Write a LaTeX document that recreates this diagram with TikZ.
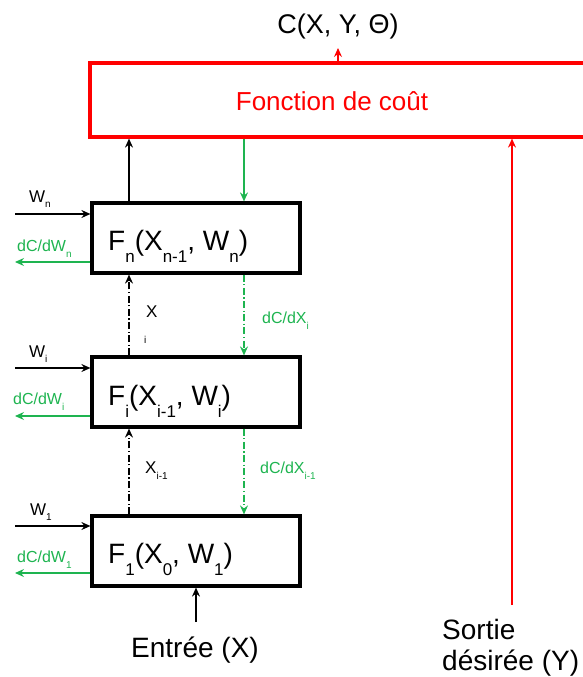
\documentclass[tikz,border=0pt]{standalone}
\usepackage{fontspec}
\setmainfont{Liberation Sans}
\usetikzlibrary{arrows.meta}
\definecolor{gr}{RGB}{30,180,80}
\newcommand\lowsub[3]{\raisebox{-#1}{\fontsize{#2}{#2}\selectfont #3}}
\newcommand\fs[1]{\fontsize{#1}{#1}\selectfont}
\begin{document}
\begin{tikzpicture}[x=1pt,y=-1pt,
  fbox/.style={draw=black,line width=3.2pt,minimum width=208pt,minimum height=70pt,inner sep=0pt},
  costbox/.style={draw=red,line width=3.2pt,minimum width=496pt,minimum height=74pt,inner sep=0pt,text=red},
  tip/.style={-{Stealth[length=9pt,width=8pt,inset=3pt]}},
  barr/.style={tip,line width=1.2pt,black},
  garr/.style={tip,line width=1.2pt,gr},
  dd/.style={dash pattern=on 7pt off 2.5pt on 1.2pt off 2.5pt},
  rarr/.style={tip,line width=1.2pt,red},
  lbl/.style={inner sep=0pt,anchor=base west},
  big/.style={inner sep=0pt,font=\fs{28}},
]
\useasboundingbox (0,0) rectangle (583,677);

% cost function box
\node[costbox] (cost) at (338,100) {};
\node[inner sep=0pt,anchor=base,text=red,font=\fs{26}] (costl) at (332,110) {Fonction de coût};
\node[inner sep=0pt,font=\fs{27},anchor=base] (C) at (338,34) {C(X, Y, Θ)};
\coordinate (ctop) at (338,48);
\draw[rarr] (cost.north -| ctop) -- (ctop);

% F boxes
\node[fbox] (fn) at (196,238) {};
\node[fbox] (fi) at (196,392) {};
\node[fbox] (f1) at (196,551) {};
\node[lbl,font=\fs{28}] (fnl) at (108,250) {F\lowsub{12pt}{17}{n}(X\lowsub{12pt}{17}{n-1}, W\lowsub{12pt}{17}{n})};
\node[lbl,font=\fs{28}] (fil) at (108,405) {F\lowsub{12pt}{17}{i}(X\lowsub{12pt}{17}{i-1}, W\lowsub{12pt}{17}{i})};
\node[lbl,font=\fs{28}] (f1l) at (108,563) {F\lowsub{12pt}{17}{1}(X\lowsub{12pt}{17}{0}, W\lowsub{12pt}{17}{1})};

\coordinate (bx) at (129,0);
\coordinate (gx) at (244,0);

% connections to the cost box
\draw[barr] (fn.north -| bx) -- (cost.south -| bx);
\draw[garr] (cost.south -| gx) -- (fn.north -| gx);

% between boxes
\draw[barr,dd] (fi.north -| bx) -- (fn.south -| bx);
\draw[garr,dd] (fn.south -| gx) -- (fi.north -| gx);
\draw[barr,dd] (f1.north -| bx) -- (fi.south -| bx);
\draw[garr,dd] (fi.south -| gx) -- (f1.north -| gx);

\node[lbl,font=\fs{17}] (xi) at (146,317) {X};
\node[lbl,font=\fs{10}] (xisub) at (144,343) {i};
\node[lbl,font=\fs{16},text=gr] (dxi) at (262,323) {dC/dX\lowsub{6pt}{10}{i}};
\node[lbl,font=\fs{17}] (xim) at (145,473) {X\lowsub{6pt}{10}{i-1}};
\node[lbl,font=\fs{16},text=gr] (dxim) at (260,473) {dC/dX\lowsub{6pt}{10}{i-1}};

% W inputs and gradients
\coordinate (wn) at (15,214);
\coordinate (wi) at (15,368);
\coordinate (w1) at (15,526);
\draw[barr] (wn) -- (wn -| fn.west);
\draw[barr] (wi) -- (wi -| fi.west);
\draw[barr] (w1) -- (w1 -| f1.west);
\node[lbl,font=\fs{17}] (wnl) at (29,202) {W\lowsub{5pt}{10}{n}};
\node[lbl,font=\fs{17}] (wil) at (29,357) {W\lowsub{5pt}{10}{i}};
\node[lbl,font=\fs{17}] (w1l) at (30,515) {W\lowsub{5pt}{10}{1}};

\coordinate (dwn) at (15,262);
\coordinate (dwi) at (15,416);
\coordinate (dw1) at (15,573);
\draw[garr] (dwn -| fn.west) -- (dwn);
\draw[garr] (dwi -| fi.west) -- (dwi);
\draw[garr] (dw1 -| f1.west) -- (dw1);
\node[lbl,font=\fs{16},text=gr] (dwnl) at (17,251) {dC/dW\lowsub{6pt}{10}{n}};
\node[lbl,font=\fs{16},text=gr] (dwil) at (13,404) {dC/dW\lowsub{6pt}{10}{i}};
\node[lbl,font=\fs{16},text=gr] (dw1l) at (17,562) {dC/dW\lowsub{6pt}{10}{1}};

% input
\coordinate (xin) at (196,622);
\draw[barr] (xin) -- (xin |- f1.south);
\node[big,anchor=base] (entree) at (195,657) {Entrée (X)};

% desired output
\coordinate (yin) at (512,605);
\draw[rarr] (yin) -- (yin |- cost.south);
\node[big,anchor=base west] (sortie) at (442,639) {Sortie};
\node[big,anchor=base west] (desiree) at (442,670) {désirée (Y)};
\end{tikzpicture}
\end{document}
